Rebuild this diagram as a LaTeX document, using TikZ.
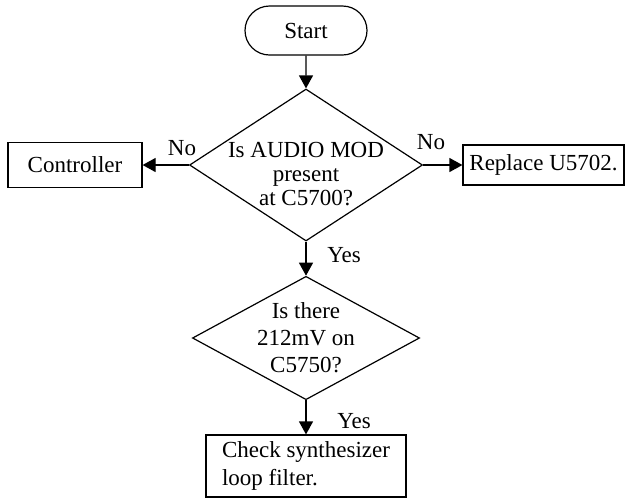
\documentclass[tikz,border=0pt]{standalone}
\usepackage{fontspec}
\setmainfont{Liberation Serif}
\usetikzlibrary{shapes.geometric,shapes.misc,arrows.meta}

\tikzset{
  startstop/.style={shape=rounded rectangle, draw=black, line width=0.6pt, inner sep=0pt},
  decision/.style={shape=diamond, draw=black, line width=0.6pt, align=center, inner sep=0pt},
  process/.style={shape=rectangle, draw=black, line width=0.6pt, inner sep=0pt},
  flow/.style={-{Triangle[length=6.5pt,width=7pt]}, line width=0.6pt, draw=black},
}

\begin{document}
\begin{tikzpicture}[x=0.5pt, y=-0.5pt, font=\fontsize{11.5}{11.8}\selectfont]
\useasboundingbox (0,0) rectangle (626,500);
% boxes
\node[startstop, minimum width=61pt, minimum height=24.5pt] (start) at (306,30.5) {Start};
\node[decision, minimum width=116.5pt, minimum height=76pt,
  label={[align=center, yshift=-4.5pt]center:{Is AUDIO MOD\\present\\at C5700?}}] (q1) at (306,165) {};
\node[process, minimum width=67pt, minimum height=22.5pt] (ctrl) at (75,165) {Controller};
\node[process, minimum width=80.5pt, minimum height=20pt] (repl) at (543.5,165) {Replace U5702.};
\node[decision, shape aspect=1.84, minimum width=112.5pt, minimum height=61pt,
  font=\fontsize{11.5}{13.5}\selectfont] (q2) at (306,338) {Is there\\212mV on\\C5750?};
\node[process, align=left, minimum width=100pt, minimum height=31pt,
  font=\fontsize{11.5}{14}\selectfont] (loop) at (306,466) {Check synthesizer\\loop filter.};
% arrows
\path (start) edge[flow] (q1);
\path (q1.west) edge[flow] node[pos=0.15, above=1pt] {No} (ctrl);
\path (q1.east) edge[flow] node[pos=0.2, above=4pt] {No} (repl);
\path (q1) edge[flow] node[pos=0.4, right=7pt] {Yes} (q2);
\path (q2) edge[flow] node[pos=0.6, right=12pt] {Yes} (loop);
\end{tikzpicture}
\end{document}
